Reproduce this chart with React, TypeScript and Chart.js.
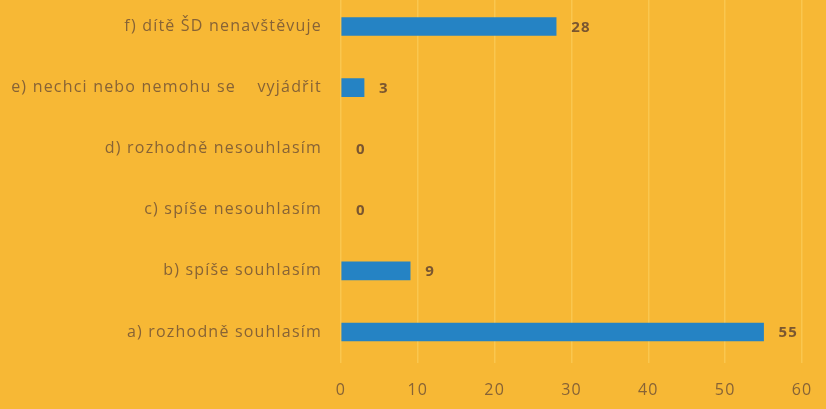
import React, { useEffect, useRef } from "react";
import { Chart, registerables } from "chart.js";

Chart.register(...registerables);

const categories = [
  "f) dítě ŠD nenavštěvuje",
  "e) nechci nebo nemohu se    vyjádřit",
  "d) rozhodně nesouhlasím",
  "c) spíše nesouhlasím",
  "b) spíše souhlasím",
  "a) rozhodně souhlasím",
];
const values = [28, 3, 0, 0, 9, 55];
const xTicks = [0, 10, 20, 30, 40, 50, 60];

const BG = "#F7B835";
const BAR = "#2583C4";
const TXT = "#876336";
const FONT = "'Open Sans', Lato, sans-serif";

const spacing = {
  id: "spacing",
  beforeDraw(chart: any) {
    try {
      chart.ctx.letterSpacing = "1.2px";
    } catch (e) {}
  },
};

const valueLabels = {
  id: "valueLabels",
  afterDatasetsDraw(chart: any) {
    const ctx = chart.ctx;
    const meta = chart.getDatasetMeta(0);
    ctx.save();
    ctx.fillStyle = "#7A5630";
    ctx.font = `bold 15px ${FONT}`;
    ctx.textAlign = "left";
    ctx.textBaseline = "middle";
    meta.data.forEach((bar: any, i: number) => {
      ctx.fillText(String(values[i]), bar.x + 15, bar.y + 1);
    });
    ctx.restore();
  },
};

export default function App() {
  const ref = useRef<HTMLCanvasElement>(null);
  useEffect(() => {
    document.body.style.margin = "0";
    document.body.style.background = BG;
    const chart = new Chart(ref.current!, {
      type: "bar",
      data: {
        labels: categories,
        datasets: [
          {
            data: values,
            backgroundColor: (c: any) =>
              values[c.dataIndex] === 0 ? "rgba(0,0,0,0)" : BAR,
            barThickness: 18,
          },
        ],
      },
      options: {
        indexAxis: "y",
        responsive: false,
        animation: false,
        layout: { padding: { left: 0, right: 24, top: 0, bottom: 0 } },
        plugins: { legend: { display: false }, tooltip: { enabled: false } },
        scales: {
          x: {
            min: 0,
            max: 60,
            afterBuildTicks: (s: any) => {
              s.ticks = xTicks.map((v) => ({ value: v }));
            },
            afterFit: (s: any) => {
              s.height = 46.5;
              s.paddingLeft = 0;
              s.paddingRight = 0;
            },
            grid: { color: "rgba(255,222,120,0.4)", drawTicks: false, lineWidth: 1.5 },
            border: { display: false },
            ticks: {
              padding: 18,
              color: TXT,
              font: { family: FONT, size: 16 },
            },
          },
          y: {
            afterFit: (s: any) => {
              s.width = 341;
              s.paddingTop = 0;
              s.paddingBottom = 0;
            },
            grid: { display: false, drawTicks: false },
            border: { display: false },
            ticks: {
              padding: 19,
              color: TXT,
              font: { family: FONT, size: 16 },
            },
          },
        },
      },
      plugins: [spacing, valueLabels],
    });
    return () => chart.destroy();
  }, []);
  return (
    <div
      style={{
        position: "absolute",
        left: 0,
        top: 0,
        width: 826,
        height: 409,
        overflow: "hidden",
        background: BG,
      }}
    >
      <canvas
        ref={ref}
        width={826}
        height={413}
        style={{ position: "absolute", left: 0, top: -4 }}
      />
    </div>
  );
}
